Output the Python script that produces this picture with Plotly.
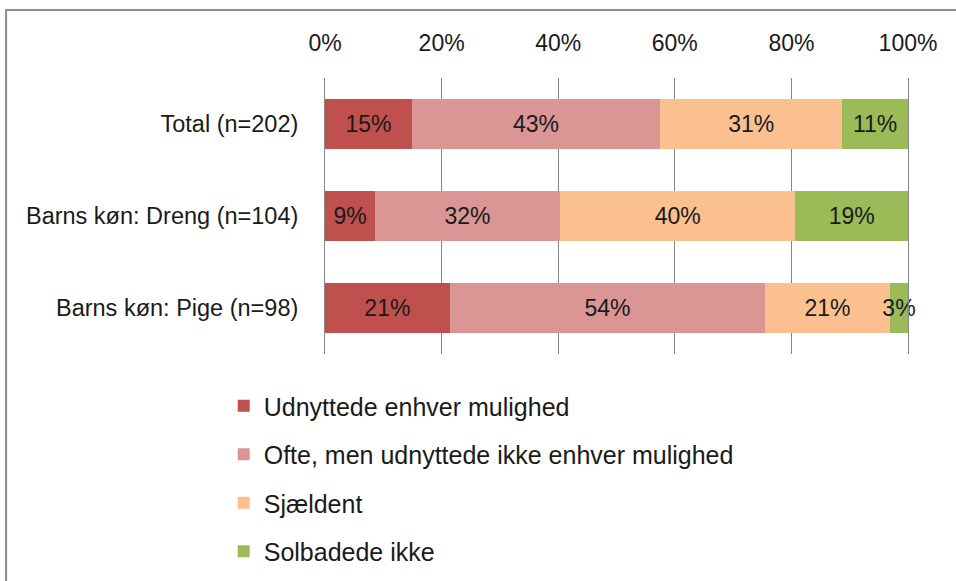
import plotly.graph_objects as go

categories = ["Total (n=202)", "Barns køn: Dreng (n=104)", "Barns køn: Pige (n=98)"]
series_names = ["Udnyttede enhver mulighed", "Ofte, men udnyttede ikke enhver mulighed", "Sjældent", "Solbadede ikke"]
udnyttede = [14.9, 8.6, 21.4]
ofte = [42.6, 31.7, 54.1]
sjaeldent = [31.2, 40.4, 21.4]
solbadede = [11.3, 19.3, 3.1]
tick_values = [0, 20, 40, 60, 80, 100]
tick_labels = ["0%", "20%", "40%", "60%", "80%", "100%"]

series_values = [udnyttede, ofte, sjaeldent, solbadede]
colors = ["#C0504D", "#D99694", "#FAC090", "#9BBB59"]

FONT = "Liberation Sans, Arial, sans-serif"
FIG_H = 592

fig = go.Figure()
for name, vals, col in zip(series_names, series_values, colors):
    fig.add_trace(go.Bar(
        y=categories, x=vals, name=name, orientation="h",
        marker=dict(color=col, line=dict(width=0)),
        width=0.54,
        text=[f"{round(v):d}%" for v in vals],
        textposition="inside", insidetextanchor="middle", textangle=0,
        insidetextfont=dict(family=FONT, size=23, color="#1a1a1a"),
        constraintext="none", cliponaxis=False,
        legendgroup=name, hoverinfo="skip",
    ))

fig.update_layout(
    width=956, height=FIG_H,
    barmode="stack",
    margin=dict(l=325, r=48, t=78, b=FIG_H - 354, autoexpand=False),
    paper_bgcolor="white", plot_bgcolor="white",
    font=dict(family=FONT, size=23, color="#1a1a1a"),
    uniformtext=dict(minsize=23, mode="show"),
    showlegend=True,
    legend=dict(
        orientation="v", xref="container", yref="container",
        x=0.234, xanchor="left", y=1 - 383 / FIG_H, yanchor="top",
        traceorder="grouped", tracegroupgap=13,
        font=dict(family=FONT, size=25, color="#1a1a1a"),
        itemwidth=30, bgcolor="rgba(0,0,0,0)",
    ),
    xaxis=dict(
        side="top", range=[0, 100], tickvals=tick_values, ticktext=tick_labels,
        showgrid=True, gridcolor="#868686", gridwidth=1,
        zeroline=False, showline=False, ticks="", ticklabelstandoff=21,
        tickfont=dict(family=FONT, size=23, color="#1a1a1a"),
        fixedrange=True,
    ),
    yaxis=dict(
        categoryorder="array", categoryarray=categories,
        range=[2.5, -0.5], showgrid=False, zeroline=False,
        showline=True, mirror=True, linecolor="#868686", linewidth=1,
        ticks="", ticklabelstandoff=21,
        tickfont=dict(family=FONT, size=23.5, color="#1a1a1a"),
        fixedrange=True,
    ),
    shapes=[dict(
        type="rect", xref="paper", yref="paper",
        x0=-0.547, x1=1.3, y0=1.246, y1=-1.5,
        line=dict(color="#8c8c8c", width=2), fillcolor="rgba(0,0,0,0)", layer="above",
    )],
)

fig.write_html(
    "out.html",
    config={"displayModeBar": False},
    post_script="document.body.style.margin='0';document.body.style.overflow='hidden';",
)
